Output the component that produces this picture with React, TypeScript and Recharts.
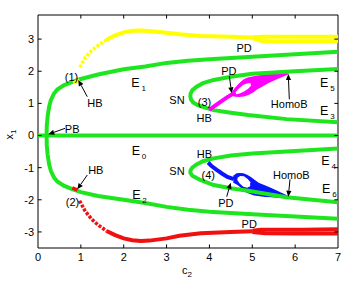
import React from "react"
import {
  Area,
  ComposedChart,
  Line,
  ReferenceArea,
  ReferenceDot,
  ReferenceLine,
  XAxis,
  YAxis,
} from "recharts"

type Pt = [number, number]
type Band = [number, number, number]

const xTicks = [0, 1, 2, 3, 4, 5, 6, 7]
const yTicks = [-3, -2, -1, 0, 1, 2, 3]

// equilibrium branches (green)
const e0Line: Pt[] = [[0, 0], [7, 0]]
const e1Branch: Pt[] = [
  [0.2, 0], [0.205, 0.3], [0.225, 0.6], [0.26, 0.9], [0.3, 1.1], [0.37, 1.3], [0.45, 1.43],
  [0.6, 1.56], [0.8, 1.67], [1.0, 1.76], [1.4, 1.9], [2.0, 2.06], [2.5, 2.15], [3.0, 2.26],
  [3.5, 2.33], [4.0, 2.37], [5.0, 2.45], [6.0, 2.53], [7, 2.61],
]
const e2Branch: Pt[] = [
  [0.2, 0], [0.205, -0.3], [0.225, -0.6], [0.26, -0.9], [0.3, -1.1], [0.37, -1.3], [0.45, -1.43],
  [0.6, -1.56], [0.8, -1.67], [1.0, -1.76], [1.4, -1.88], [2.0, -2.0], [2.5, -2.1], [3.0, -2.22],
  [3.5, -2.31], [4.0, -2.37], [5.0, -2.45], [6.0, -2.52], [7, -2.59],
]
const e5e3Branch: Pt[] = [
  [7, 2.07], [6, 2.0], [5, 1.92], [4.5, 1.83], [4.1, 1.73], [3.85, 1.63], [3.7, 1.52],
  [3.6, 1.41], [3.56, 1.3], [3.555, 1.21], [3.57, 1.12], [3.62, 1.03], [3.72, 0.95],
  [3.9, 0.87], [4.1, 0.79], [4.5, 0.71], [4.9, 0.64], [5.8, 0.51], [7, 0.41],
]
const e4e6Branch: Pt[] = [
  [7, -0.4], [6, -0.48], [5, -0.56], [4.5, -0.62], [4.1, -0.71], [3.85, -0.8], [3.7, -0.9],
  [3.6, -1.0], [3.56, -1.08], [3.555, -1.16], [3.6, -1.25], [3.7, -1.32], [3.8, -1.39],
  [4.1, -1.54], [4.5, -1.64], [4.9, -1.72], [5.8, -1.92], [7, -2.08],
]

// periodic orbits
const yellowHB: Pt[] = [[0.82, 1.64], [0.97, 1.72]]
const yellowRise: Pt[] = [[0.98, 2.12], [1.1, 2.42], [1.25, 2.64], [1.4, 2.8], [1.6, 2.98]]
const yellowOrbit: Pt[] = [
  [1.6, 2.98], [1.8, 3.12], [2.0, 3.21], [2.2, 3.26], [2.4, 3.27], [2.6, 3.25], [3.0, 3.2],
  [3.3, 3.15], [3.8, 3.1], [4.5, 3.07], [5.0, 3.05],
]
const yellowPDHi: Pt[] = [[5.0, 3.06], [5.3, 3.07], [5.6, 3.075], [6.0, 3.07], [6.5, 3.07], [7, 3.07]]
const yellowPDLo: Pt[] = [[5.0, 3.03], [5.2, 2.95], [5.5, 2.925], [6.0, 2.93], [6.5, 2.935], [7, 2.94]]

const redHB: Pt[] = [[0.8, -1.63], [0.92, -1.7]]
const redRise: Pt[] = [[0.97, -2.03], [1.1, -2.35], [1.25, -2.6], [1.4, -2.78], [1.6, -2.97]]
const redOrbit: Pt[] = [
  [1.6, -2.97], [1.8, -3.1], [2.0, -3.2], [2.2, -3.26], [2.4, -3.28], [2.6, -3.27], [3.0, -3.2],
  [3.3, -3.12], [3.8, -3.04], [4.5, -3.0], [5.0, -2.98],
]
const redPDHi: Pt[] = [[5.0, -2.96], [5.2, -2.93], [5.6, -2.93], [6.2, -2.93], [7, -2.92]]
const redPDLo: Pt[] = [[5.0, -3.0], [5.3, -3.04], [6.0, -3.05], [7, -3.05]]

const magentaHB: Pt[] = [[4.0, 0.8], [4.1, 0.9], [4.25, 1.04], [4.4, 1.18], [4.5, 1.26], [4.57, 1.3]]
const magentaLoop: Band[] = [
  [4.54, 1.26, 1.34], [4.6, 1.23, 1.46], [4.7, 1.22, 1.6], [4.8, 1.24, 1.72], [4.9, 1.28, 1.78],
  [5.0, 1.35, 1.81], [5.1, 1.45, 1.84], [5.2, 1.52, 1.86], [5.34, 1.63, 1.89], [5.5, 1.73, 1.91],
  [5.65, 1.82, 1.93], [5.84, 1.93, 1.96],
]
const magentaHole: Band[] = [
  [4.62, 1.31, 1.33], [4.7, 1.33, 1.45], [4.8, 1.39, 1.56], [4.9, 1.48, 1.6], [4.96, 1.57, 1.61],
]

const blueHB: Pt[] = [[3.97, -0.84], [4.05, -0.95], [4.17, -1.07], [4.3, -1.19], [4.42, -1.29], [4.57, -1.36]]
const blueLoop: Band[] = [
  [4.56, -1.44, -1.28], [4.64, -1.5, -1.2], [4.71, -1.57, -1.19], [4.79, -1.67, -1.2],
  [4.87, -1.75, -1.24], [4.95, -1.8, -1.3], [5.05, -1.84, -1.4], [5.14, -1.86, -1.49],
  [5.3, -1.89, -1.58], [5.45, -1.9, -1.66], [5.65, -1.92, -1.79], [5.84, -1.93, -1.9],
]
const blueHole: Band[] = [
  [4.66, -1.36, -1.34], [4.72, -1.48, -1.28], [4.8, -1.57, -1.29], [4.88, -1.6, -1.37], [4.95, -1.55, -1.48],
]

// annotations, in data coordinates
const textLabels = [
  { x: 0.782, y: 1.82, t: "(1)" },
  { x: 1.33, y: 1.027, t: "HB" },
  { x: 0.798, y: 0.196, t: "PB" },
  { x: 3.243, y: 1.105, t: "SN" },
  { x: 0.805, y: -2.06, t: "(2)" },
  { x: 1.349, y: -1.073, t: "HB" },
  { x: 4.811, y: 2.738, t: "PD" },
  { x: 4.452, y: 1.998, t: "PD" },
  { x: 3.885, y: 1.042, t: "(3)" },
  { x: 3.878, y: 0.56, t: "HB" },
  { x: 5.861, y: 0.986, t: "HomoB" },
  { x: 3.885, y: -0.566, t: "HB" },
  { x: 3.243, y: -1.098, t: "SN" },
  { x: 3.974, y: -1.22, t: "(4)" },
  { x: 4.382, y: -2.085, t: "PD" },
  { x: 5.91, y: -1.235, t: "HomoB" },
  { x: 4.928, y: -2.76, t: "PD" },
]
const eLabels = [
  { x: 2.275, y: 1.649, sub: "1" },
  { x: 2.282, y: -0.492, sub: "0" },
  { x: 2.294, y: -1.851, sub: "2" },
  { x: 6.678, y: 1.64, sub: "5" },
  { x: 6.678, y: 0.778, sub: "3" },
  { x: 6.708, y: -0.8, sub: "4" },
  { x: 6.725, y: -1.658, sub: "6" },
]
const arrows = [
  { x1: 1.15, y1: 1.207, x2: 0.94, y2: 1.727 },
  { x1: 0.63, y1: 0.224, x2: 0.24, y2: 0.037 },
  { x1: 1.15, y1: -1.229, x2: 0.917, y2: -1.674 },
  { x1: 4.464, y1: 1.851, x2: 4.52, y2: 1.313 },
  { x1: 5.864, y1: 1.126, x2: 5.84, y2: 1.914 },
  { x1: 4.403, y1: -1.904, x2: 4.496, y2: -1.469 },
  { x1: 5.88, y1: -1.363, x2: 5.84, y2: -1.904 },
]

const FONT = "'Liberation Sans', Arial, sans-serif"
const GREEN = "#1ee61e"
const YELLOW = "#ffff00"
const RED = "#f01010"
const MAGENTA = "#ff00ff"
const BLUE = "#0a14ff"

const rows = (pts: Pt[]) => pts.map(([x, y]) => ({ x, y }))
const bandRows = (pts: Band[]) => pts.map(([x, lo, hi]) => ({ x, r: [lo, hi] }))

const arrowShape = (p: any) => {
  const { x1, y1, x2, y2 } = p
  const a = Math.atan2(y2 - y1, x2 - x1)
  const L = 6
  const W = 2.6
  const bx = x2 - L * Math.cos(a)
  const by = y2 - L * Math.sin(a)
  const px = -Math.sin(a) * W
  const py = Math.cos(a) * W
  return (
    <g>
      <line x1={x1} y1={y1} x2={bx} y2={by} stroke="#000" strokeWidth={1} />
      <polygon points={`${x2},${y2} ${bx + px},${by + py} ${bx - px},${by - py}`} fill="#000" />
    </g>
  )
}

function curve(pts: Pt[], color: string, width = 4, key?: string, dash?: string) {
  return (
    <Line
      key={key}
      data={rows(pts)}
      dataKey="y"
      type="linear"
      stroke={color}
      strokeWidth={width}
      strokeDasharray={dash}
      dot={false}
      activeDot={false}
      isAnimationActive={false}
    />
  )
}

function band(pts: Band[], color: string) {
  return (
    <Area
      data={bandRows(pts)}
      dataKey="r"
      type="linear"
      stroke={color}
      strokeWidth={1.5}
      fill={color}
      fillOpacity={1}
      dot={false}
      activeDot={false}
      isAnimationActive={false}
    />
  )
}

export default function App() {
  return (
    <div style={{ position: "absolute", left: 0, top: 0, background: "#fff" }}>
      <ComposedChart width={361} height={293} margin={{ top: 15, right: 23, bottom: 15, left: 8 }}>
        <XAxis
          dataKey="x"
          type="number"
          domain={[0, 7]}
          ticks={xTicks}
          allowDataOverflow
          height={30}
          tickSize={0}
          tickMargin={5}
          axisLine={false}
          tick={{ fill: "#000", fontSize: 11, fontFamily: FONT }}
          label={{
            content: (p: any) => {
              const vb = p.viewBox
              return (
                <text x={vb.x + vb.width / 2 - 6} y={vb.y + 26} fontSize={11} fontFamily={FONT} fill="#000">
                  c<tspan dy={3} fontSize={8}>2</tspan>
                </text>
              )
            },
          }}
        />
        <YAxis
          type="number"
          domain={[-3.5, 3.75]}
          ticks={yTicks}
          allowDataOverflow
          width={30}
          tickSize={0}
          tickMargin={4}
          axisLine={false}
          tick={{ fill: "#000", fontSize: 11, fontFamily: FONT }}
          label={{
            content: (p: any) => {
              const vb = p.viewBox
              const cx = vb.x + 5
              const cy = vb.y + vb.height / 2 + 3
              return (
                <text
                  x={cx}
                  y={cy}
                  transform={`rotate(-90, ${cx}, ${cy})`}
                  textAnchor="middle"
                  fontSize={11}
                  fontFamily={FONT}
                  fill="#000"
                >
                  x<tspan dy={3} fontSize={8}>1</tspan>
                </text>
              )
            },
          }}
        />

        {curve(e0Line, GREEN)}
        {curve(e1Branch, GREEN)}
        {curve(e2Branch, GREEN)}
        {curve(e5e3Branch, GREEN)}
        {curve(e4e6Branch, GREEN)}

        {curve(yellowHB, YELLOW, 3.5)}
        {curve(yellowRise, YELLOW, 3.5, undefined, "3 1.5")}
        {curve(yellowOrbit, YELLOW, 4)}
        {curve(yellowPDHi, YELLOW, 4)}
        {curve(yellowPDLo, YELLOW, 4)}

        {curve(redHB, RED, 3.5)}
        {curve(redRise, RED, 3.5, undefined, "3 1.5")}
        {curve(redOrbit, RED, 4)}
        {curve(redPDHi, RED, 4)}
        {curve(redPDLo, RED, 4)}

        {curve(magentaHB, MAGENTA, 4)}
        {band(magentaLoop, MAGENTA)}
        {band(magentaHole, "#ffffff")}

        {curve(blueHB, BLUE, 4)}
        {band(blueLoop, BLUE)}
        {band(blueHole, "#ffffff")}

        <ReferenceArea x1={0} x2={7} y1={-3.5} y2={3.75} fill="none" stroke="#000" strokeWidth={1} ifOverflow="visible" />

        {xTicks.slice(1, -1).map((v) => (
          <ReferenceLine key={`bt${v}`} segment={[{ x: v, y: -3.5 }, { x: v, y: -3.39 }]} stroke="#000" />
        ))}
        {xTicks.slice(1, -1).map((v) => (
          <ReferenceLine key={`tt${v}`} segment={[{ x: v, y: 3.75 }, { x: v, y: 3.64 }]} stroke="#000" />
        ))}
        {yTicks.map((v) => (
          <ReferenceLine key={`lt${v}`} segment={[{ x: 0, y: v }, { x: 0.085, y: v }]} stroke="#000" />
        ))}
        {yTicks.map((v) => (
          <ReferenceLine key={`rt${v}`} segment={[{ x: 7, y: v }, { x: 6.915, y: v }]} stroke="#000" />
        ))}

        {arrows.map((a, i) => (
          <ReferenceLine
            key={`ar${i}`}
            segment={[{ x: a.x1, y: a.y1 }, { x: a.x2, y: a.y2 }]}
            shape={arrowShape}
          />
        ))}

        {textLabels.map((l, i) => (
          <ReferenceDot
            key={`tl${i}`}
            x={l.x}
            y={l.y}
            r={1}
            shape={(p: any) => (
              <text
                x={p.cx}
                y={p.cy}
                textAnchor="middle"
                dominantBaseline="central"
                fontSize={11}
                fontFamily={FONT}
                fill="#000"
              >
                {l.t}
              </text>
            )}
          />
        ))}
        {eLabels.map((l, i) => (
          <ReferenceDot
            key={`el${i}`}
            x={l.x}
            y={l.y}
            r={1}
            shape={(p: any) => (
              <g fontFamily={FONT} fill="#000">
                <text x={p.cx} y={p.cy} textAnchor="middle" dominantBaseline="central" fontSize={12.5}>
                  E
                </text>
                <text x={p.cx + 8.2} y={p.cy + 5.5} textAnchor="middle" dominantBaseline="central" fontSize={8}>
                  {l.sub}
                </text>
              </g>
            )}
          />
        ))}
      </ComposedChart>
    </div>
  )
}
